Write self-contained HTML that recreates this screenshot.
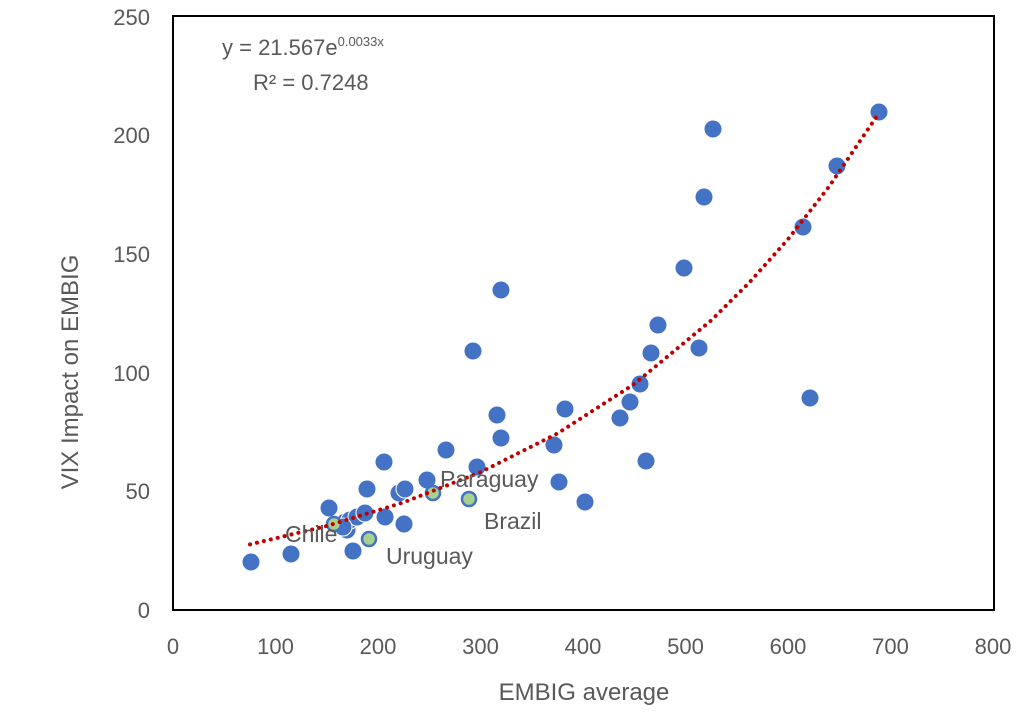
<!DOCTYPE html>
<html><head><meta charset="utf-8"><style>body{margin:0;background:#fff}svg{display:block}text{font-family:"Liberation Sans",sans-serif;fill:#595959}</style></head><body>
<svg width="1024" height="728" viewBox="0 0 1024 728">
<rect x="173" y="16" width="821" height="594" fill="none" stroke="#000" stroke-width="2"/>
<g font-size="22" text-anchor="end">
<text x="150" y="618">0</text><text x="150" y="499">50</text><text x="150" y="381">100</text><text x="150" y="262">150</text><text x="150" y="143">200</text><text x="150" y="25">250</text></g>
<g font-size="22" text-anchor="middle">
<text x="173" y="654">0</text><text x="275.5" y="654">100</text><text x="378" y="654">200</text><text x="480.5" y="654">300</text><text x="583" y="654">400</text><text x="685.5" y="654">500</text><text x="788" y="654">600</text><text x="890.5" y="654">700</text><text x="993" y="654">800</text></g>
<text x="584" y="700" font-size="24" text-anchor="middle">EMBIG  average</text>
<text transform="translate(78,372) rotate(-90)" font-size="24" text-anchor="middle">VIX Impact on EMBIG</text>
<text x="222" y="55" font-size="22">y = 21.567e<tspan font-size="13" dy="-9">0.0033x</tspan></text>
<text x="253" y="90" font-size="22">R² = 0.7248</text>
<g fill="#4472C4" stroke="#fff" stroke-width="1">
<circle cx="251" cy="562" r="9"/><circle cx="291" cy="554" r="9"/><circle cx="353" cy="551" r="9"/><circle cx="329" cy="508" r="9"/><circle cx="367" cy="489" r="9"/><circle cx="384" cy="462" r="9"/><circle cx="347" cy="530" r="9"/><circle cx="345" cy="522" r="9"/><circle cx="350" cy="520" r="9"/><circle cx="357" cy="517" r="9"/><circle cx="365" cy="513" r="9"/><circle cx="343" cy="527" r="9"/><circle cx="385" cy="517" r="9"/><circle cx="404" cy="524" r="9"/><circle cx="399" cy="493" r="9"/><circle cx="405" cy="489" r="9"/><circle cx="427" cy="480" r="9"/><circle cx="446" cy="450" r="9"/><circle cx="473" cy="351" r="9"/><circle cx="477" cy="467" r="9"/><circle cx="497" cy="415" r="9"/><circle cx="501" cy="438" r="9"/><circle cx="501" cy="290" r="9"/><circle cx="565" cy="409" r="9"/><circle cx="554" cy="445" r="9"/><circle cx="559" cy="482" r="9"/><circle cx="585" cy="502" r="9"/><circle cx="620" cy="418" r="9"/><circle cx="630" cy="402" r="9"/><circle cx="640" cy="384" r="9"/><circle cx="651" cy="353" r="9"/><circle cx="658" cy="325" r="9"/><circle cx="646" cy="461" r="9"/><circle cx="699" cy="348" r="9"/><circle cx="684" cy="268" r="9"/><circle cx="704" cy="197" r="9"/><circle cx="713" cy="129" r="9"/><circle cx="803" cy="227" r="9"/><circle cx="810" cy="398" r="9"/><circle cx="837" cy="166" r="9"/><circle cx="879" cy="112" r="9"/>
</g>
<g fill="#A9D18E" stroke="#4472C4" stroke-width="2.5">
<circle cx="334" cy="524" r="7"/><circle cx="433" cy="493" r="7"/><circle cx="469" cy="499" r="7"/><circle cx="369" cy="539" r="7"/></g>
<polyline points="250,544.4 326.8,526 403.6,502.4 480.5,472.2 557.4,433.5 634.3,384 711.1,320.5 749,282.9 788,239.2 829,186.7 878.2,114.2" fill="none" stroke="#C00000" stroke-width="4" stroke-dasharray="0.1 7" stroke-linecap="round"/>
<g font-size="23">
<text x="285" y="542">Chile</text><text x="440" y="487">Paraguay</text><text x="484" y="529">Brazil</text><text x="386" y="564">Uruguay</text></g>
</svg></body></html>
